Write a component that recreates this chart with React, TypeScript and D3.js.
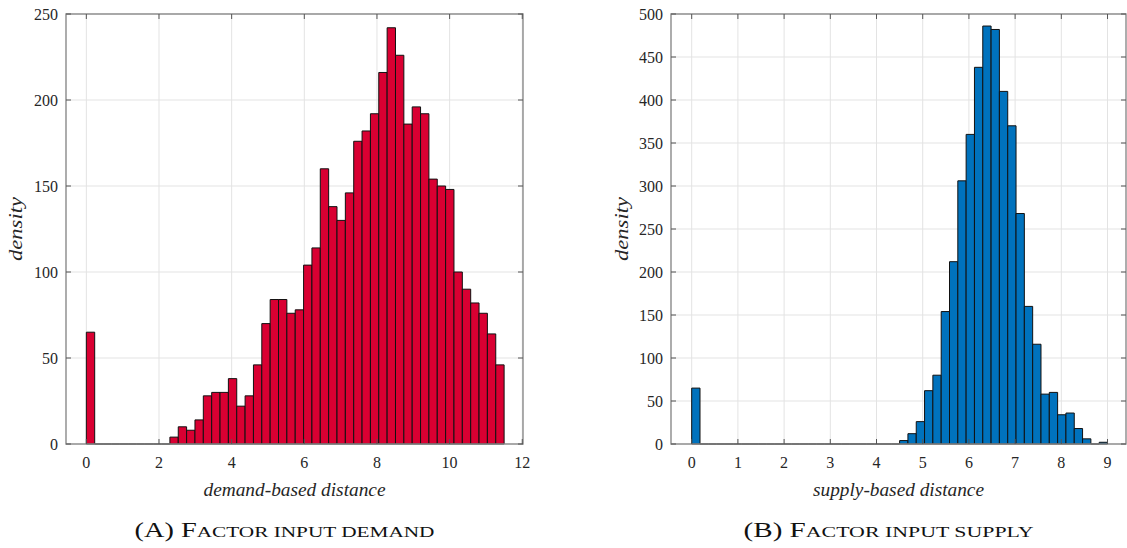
import React, { useEffect, useRef } from "react";
import * as d3 from "d3";

// histogram counts, 50 bins each
const demandBinWidth = 0.23;
const demandCounts = [
  65, 0, 0, 0, 0, 0, 0, 0, 0, 0,
  4, 10, 8, 14, 28, 30, 30, 38, 22, 28,
  46, 70, 84, 84, 76, 78, 104, 114, 160, 138,
  130, 146, 176, 182, 192, 216, 242, 226, 186, 196,
  192, 154, 150, 148, 100, 90, 82, 76, 64, 46,
];
const demandXTicks = [0, 2, 4, 6, 8, 10, 12];
const demandYTicks = [0, 50, 100, 150, 200, 250];

const supplyBinWidth = 0.18;
const supplyCounts = [
  65, 0, 0, 0, 0, 0, 0, 0, 0, 0,
  0, 0, 0, 0, 0, 0, 0, 0, 0, 0,
  0, 0, 0, 0, 0, 4, 12, 26, 62, 80,
  154, 212, 306, 360, 438, 486, 482, 410, 370, 268,
  160, 116, 58, 60, 34, 36, 18, 6, 0, 2,
];
const supplyXTicks = [0, 1, 2, 3, 4, 5, 6, 7, 8, 9];
const supplyYTicks = [0, 50, 100, 150, 200, 250, 300, 350, 400, 450, 500];

const W = 1127;
const H = 548;
const serif = "'Liberation Serif', 'Times New Roman', serif";

const panels = [
  {
    counts: demandCounts,
    binWidth: demandBinWidth,
    xTicks: demandXTicks,
    yTicks: demandYTicks,
    xDomain: [-0.56, 12.02],
    yMax: 250,
    left: 66,
    right: 523,
    color: "#D90032",
    xLabel: "demand-based distance",
    xLabelLen: 182,
    yLabelX: 16,
    capLetter: "(A) F",
    capRest: "ACTOR INPUT DEMAND",
    capLen: 300,
  },
  {
    counts: supplyCounts,
    binWidth: supplyBinWidth,
    xTicks: supplyXTicks,
    yTicks: supplyYTicks,
    xDomain: [-0.448, 9.4],
    yMax: 500,
    left: 671,
    right: 1126,
    color: "#0072BD",
    xLabel: "supply-based distance",
    xLabelLen: 171,
    yLabelX: 622,
    capLetter: "(B) F",
    capRest: "ACTOR INPUT SUPPLY",
    capLen: 290,
  },
];

const App = () => {
  const svgRef = useRef(null);

  useEffect(() => {
    const svg = d3.select(svgRef.current);
    svg.selectAll("*").remove();

    const top = 14;
    const bottom = 444;

    panels.forEach((p) => {
      const x = d3.scaleLinear().domain(p.xDomain).range([p.left, p.right]);
      const y = d3.scaleLinear().domain([0, p.yMax]).range([bottom, top]);
      const g = svg.append("g");

      // grid
      g.selectAll(".gx")
        .data(p.xTicks)
        .enter()
        .append("line")
        .attr("x1", (d) => x(d))
        .attr("x2", (d) => x(d))
        .attr("y1", top)
        .attr("y2", bottom)
        .attr("stroke", "#e3e3e3")
        .attr("stroke-width", 1);
      g.selectAll(".gy")
        .data(p.yTicks)
        .enter()
        .append("line")
        .attr("x1", p.left)
        .attr("x2", p.right)
        .attr("y1", (d) => y(d))
        .attr("y2", (d) => y(d))
        .attr("stroke", "#e3e3e3")
        .attr("stroke-width", 1);

      // bars (paths so that empty bins still show as a line)
      g.selectAll(".bar")
        .data(p.counts)
        .enter()
        .append("path")
        .attr("d", (d, i) => {
          const x0 = x(i * p.binWidth);
          const x1 = x((i + 1) * p.binWidth);
          return `M${x0},${y(0)}V${y(d)}H${x1}V${y(0)}Z`;
        })
        .attr("fill", p.color)
        .attr("stroke", "#111")
        .attr("stroke-width", 1);

      // box
      g.append("rect")
        .attr("x", p.left)
        .attr("y", top)
        .attr("width", p.right - p.left)
        .attr("height", bottom - top)
        .attr("fill", "none")
        .attr("stroke", "#8a8a8a")
        .attr("stroke-width", 1.4);

      // ticks, inward on all sides
      const tl = 5;
      p.xTicks.forEach((t) => {
        g.append("line").attr("x1", x(t)).attr("x2", x(t)).attr("y1", bottom).attr("y2", bottom - tl).attr("stroke", "#555");
        g.append("line").attr("x1", x(t)).attr("x2", x(t)).attr("y1", top).attr("y2", top + tl).attr("stroke", "#555");
      });
      p.yTicks.forEach((t) => {
        g.append("line").attr("x1", p.left).attr("x2", p.left + tl).attr("y1", y(t)).attr("y2", y(t)).attr("stroke", "#555");
        g.append("line").attr("x1", p.right).attr("x2", p.right - tl).attr("y1", y(t)).attr("y2", y(t)).attr("stroke", "#555");
      });

      // tick labels
      g.selectAll(".xt")
        .data(p.xTicks)
        .enter()
        .append("text")
        .attr("x", (d) => x(d))
        .attr("y", 468)
        .attr("text-anchor", "middle")
        .style("font-family", serif)
        .style("font-size", "16px")
        .attr("fill", "#262626")
        .text((d) => d);
      g.selectAll(".yt")
        .data(p.yTicks)
        .enter()
        .append("text")
        .attr("x", p.left - 8)
        .attr("y", (d) => y(d))
        .attr("dy", "0.35em")
        .attr("text-anchor", "end")
        .style("font-family", serif)
        .style("font-size", "16px")
        .attr("fill", "#262626")
        .text((d) => d);

      // axis labels
      g.append("text")
        .attr("x", (p.left + p.right) / 2)
        .attr("y", 496)
        .attr("text-anchor", "middle")
        .attr("textLength", p.xLabelLen)
        .attr("lengthAdjust", "spacingAndGlyphs")
        .style("font-family", serif)
        .style("font-style", "italic")
        .style("font-size", "18px")
        .attr("fill", "#262626")
        .text(p.xLabel);
      g.append("text")
        .attr("transform", `translate(${p.yLabelX + 6},${(top + bottom) / 2}) rotate(-90)`)
        .attr("text-anchor", "middle")
        .attr("textLength", 64)
        .attr("lengthAdjust", "spacingAndGlyphs")
        .style("font-family", serif)
        .style("font-style", "italic")
        .style("font-size", "18px")
        .attr("fill", "#262626")
        .text("density");

      // caption with small caps
      const cap = g
        .append("text")
        .attr("x", (p.left + p.right) / 2 - 10)
        .attr("y", 537)
        .attr("text-anchor", "middle")
        .attr("textLength", p.capLen)
        .attr("lengthAdjust", "spacingAndGlyphs")
        .style("font-family", serif)
        .attr("fill", "#111");
      cap.append("tspan").style("font-size", "20px").text(p.capLetter);
      cap.append("tspan").style("font-size", "15px").text(p.capRest);
    });
  }, []);

  return (
    <div style={{ position: "absolute", left: 0, top: 0 }}>
      <svg ref={svgRef} width={W} height={H} style={{ display: "block", background: "#fff" }}></svg>
    </div>
  );
};

export default App;
